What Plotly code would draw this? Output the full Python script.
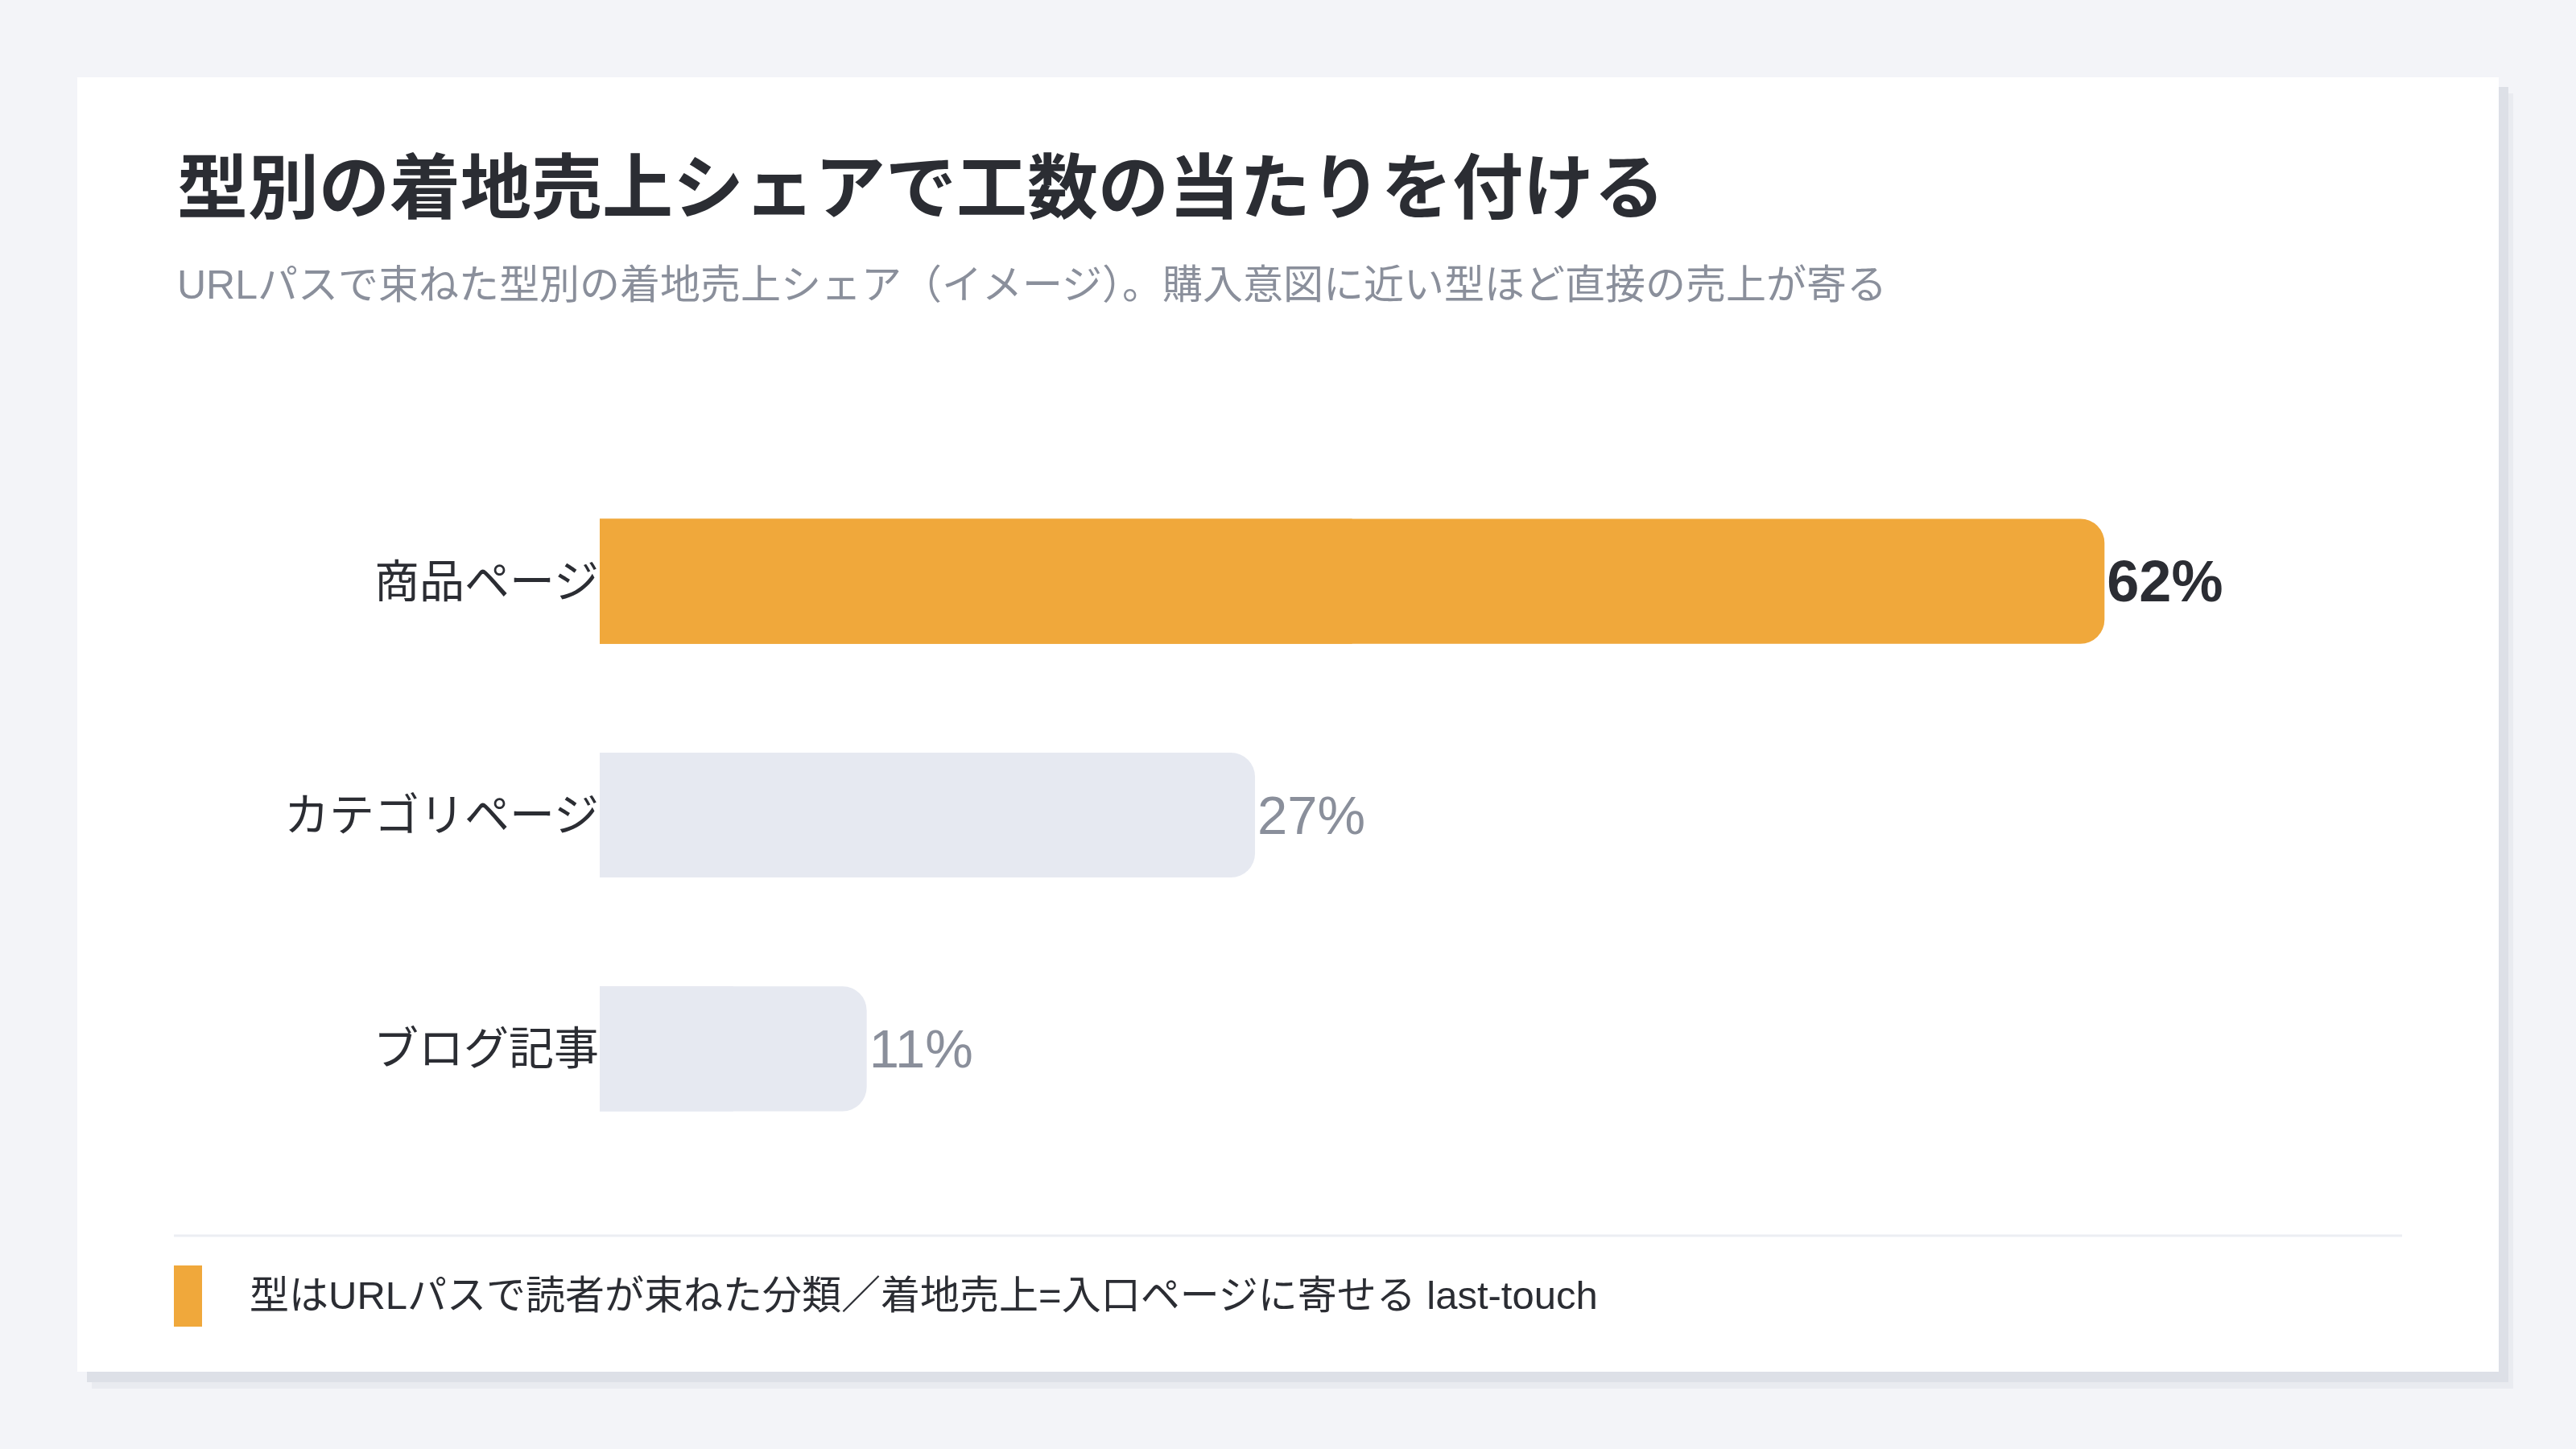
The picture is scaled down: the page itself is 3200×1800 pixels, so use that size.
import plotly.graph_objects as go

# ---------------- data ----------------
categories = ["商品ページ", "カテゴリページ", "ブログ記事"]
shares = [62, 27, 11]
highlight = [True, False, False]

title_text = "型別の着地売上シェアで工数の当たりを付ける"
subtitle_text = "URLパスで束ねた型別の着地売上シェア（イメージ）。購入意図に近い型ほど直接の売上が寄る"
footnote_text = "型はURLパスで読者が束ねた分類／着地売上=入口ページに寄せる last-touch"

# ---------------- style ----------------
W, H = 3200, 1800
BG = "#F3F4F8"
CARD = "#FFFFFF"
ORANGE = "#F0A83B"
GRAY_BAR = "#E6E9F1"
DARK = "#2B2D33"
MUTED = "#8A8F9B"
JP = "Noto Sans CJK JP"
MIX = "Liberation Sans, Noto Sans CJK JP"

# plot area in pixels
PL, PR, PT, PB = 745, 2984, 577, 1448
XMAX = (PR - PL) / 30.15


def fx(x):
    return (x - PL) / (PR - PL)


def fy(y):
    return (PB - y) / (PB - PT)


bar_colors = [ORANGE if h else GRAY_BAR for h in highlight]
text_colors = [DARK if h else MUTED for h in highlight]
text_sizes = [72 if h else 67 for h in highlight]
labels = [f"<b>{v}%</b>" if h else f"{v}%" for v, h in zip(shares, highlight)]

fig = go.Figure()

# square-cornered underlay so only the right end looks rounded
fig.add_trace(go.Bar(
    y=categories, x=[v / 2 for v in shares], orientation="h",
    marker=dict(color=bar_colors, line=dict(width=0), cornerradius=0),
    hoverinfo="skip", showlegend=False,
))
fig.add_trace(go.Bar(
    y=categories, x=shares, orientation="h",
    marker=dict(color=bar_colors, line=dict(width=0), cornerradius=30),
    text=labels, textposition="outside", cliponaxis=False,
    textfont=dict(family="Liberation Sans", color=text_colors, size=text_sizes),
    showlegend=False,
))

shapes = []
# card shadow
shapes.append(dict(type="rect", xref="paper", yref="paper",
                   x0=fx(114), x1=fx(3122), y0=fy(116), y1=fy(1725),
                   fillcolor="#E9EBF0", line=dict(width=0), layer="below"))
shapes.append(dict(type="rect", xref="paper", yref="paper",
                   x0=fx(108), x1=fx(3116), y0=fy(108), y1=fy(1717),
                   fillcolor="#DDE0E7", line=dict(width=0), layer="below"))
# card
shapes.append(dict(type="rect", xref="paper", yref="paper",
                   x0=fx(96), x1=fx(3104), y0=fy(96), y1=fy(1704),
                   fillcolor=CARD, line=dict(width=0), layer="below"))
# divider
shapes.append(dict(type="line", xref="paper", yref="paper",
                   x0=fx(216), x1=fx(2984), y0=fy(1535), y1=fy(1535),
                   line=dict(color="#ECEEF3", width=3)))
# footer marker
shapes.append(dict(type="rect", xref="paper", yref="paper",
                   x0=fx(216), x1=fx(251), y0=fy(1572), y1=fy(1648),
                   fillcolor=ORANGE, line=dict(width=0)))

annotations = [
    dict(text=f"<b>{title_text}</b>", x=fx(218), y=fy(225), xref="paper", yref="paper",
         xanchor="left", yanchor="middle", showarrow=False,
         font=dict(family=JP, size=88, color=DARK)),
    dict(text=subtitle_text, x=fx(218), y=fy(354), xref="paper", yref="paper",
         xanchor="left", yanchor="middle", showarrow=False,
         font=dict(family=MIX, size=50, color=MUTED)),
    dict(text=footnote_text, x=fx(308), y=fy(1609), xref="paper", yref="paper",
         xanchor="left", yanchor="middle", showarrow=False,
         font=dict(family=MIX, size=49, color=DARK)),
]

fig.update_layout(
    width=W, height=H,
    margin=dict(l=PL, r=W - PR, t=PT, b=H - PB, pad=0),
    paper_bgcolor=BG, plot_bgcolor="rgba(0,0,0,0)",
    barmode="overlay", bargap=1 - 155 / 290,
    shapes=shapes, annotations=annotations,
    xaxis=dict(range=[0, XMAX], visible=False, fixedrange=True),
    yaxis=dict(categoryorder="array", categoryarray=categories, autorange="reversed",
               showgrid=False, zeroline=False, showline=False, ticks="",
               ticklabelstandoff=0,
               tickfont=dict(family=JP, size=56, color=DARK), fixedrange=True),
    font=dict(family=JP),
)

fig.write_html("out.html")
